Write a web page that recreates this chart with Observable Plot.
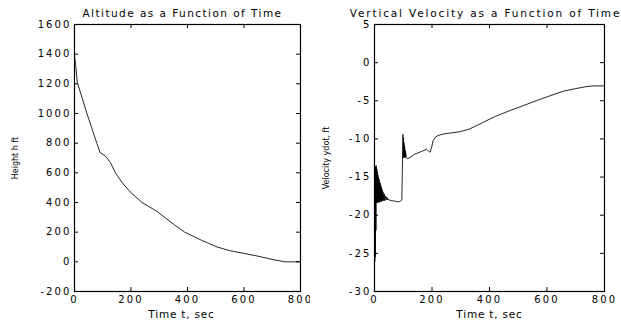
<!DOCTYPE html>
<html>
<head>
<meta charset="utf-8">
<script src="https://cdn.jsdelivr.net/npm/d3@7"></script>
<script src="https://cdn.jsdelivr.net/npm/@observablehq/plot@0.6"></script>
<style>
  html, body { margin: 0; padding: 0; background: white; }
  #wrap { display: flex; width: 621px; height: 324px; overflow: hidden; background: white; }
  #wrap svg { flex: none; }
</style>
</head>
<body>
<div id="wrap"></div>
<script>
// ---- Data ----
const xTicks = [0, 200, 400, 600, 800];
const altTicks = [-200, 0, 200, 400, 600, 800, 1000, 1200, 1400, 1600];
const velTicks = [-30, -25, -20, -15, -10, -5, 0, 5];

const altTime = [0, 4, 10, 44, 79, 91, 100, 110, 127, 145, 170, 197, 239, 292, 351, 390, 450, 505, 550, 600, 650, 700, 745, 800];
const altHeight = [1385, 1330, 1210, 1000, 800, 735, 725, 712, 670, 600, 530, 472, 400, 340, 253, 200, 145, 100, 75, 57, 38, 16, 0, 0];

const velTime = [0, 1, 2, 3, 4, 5, 6, 7, 8, 9, 10, 11, 12, 13, 14, 15, 16, 17, 18, 19, 20, 21, 22, 23, 24, 25, 26, 27, 28, 29, 30, 32, 34, 36, 38, 40, 42, 44, 46, 50, 60, 70, 80, 88, 95,
  99, 100, 101, 102, 103, 104, 105, 106, 107, 108, 109, 110, 114, 125, 140, 160, 181, 188, 193, 198, 204, 212, 221, 240, 260, 298, 330, 356, 379, 420, 472, 520, 565, 610, 657, 700, 739, 760, 800];
const velValue = [-19, -26.1, -14.0, -25.5, -13.6, -22.0, -13.5, -18.4, -13.9, -18.4, -14.3, -18.3, -14.7, -18.3, -15.0, -18.3, -15.3, -18.3, -15.6, -18.2, -15.8, -18.2, -16.1, -18.2, -16.3, -18.2, -16.6, -18.1, -16.8, -18.1, -17.0, -18.1, -17.2, -18.1, -17.5, -18.0, -17.6, -18.0, -17.8, -18.0, -18.1, -18.15, -18.25, -18.2, -18.0,
  -9.4, -12.5, -9.9, -12.4, -10.5, -12.4, -11.0, -12.4, -11.5, -12.4, -11.9, -12.4, -12.6, -12.4, -12.0, -11.7, -11.35, -11.6, -11.75, -11.2, -10.2, -9.75, -9.55, -9.35, -9.25, -9.05, -8.7, -8.24, -7.8, -7.05, -6.27, -5.6, -4.96, -4.35, -3.74, -3.4, -3.13, -3.05, -3.05];

const titles = ["Altitude as a Function of Time", "Vertical Velocity as a Function of Time"];
const xLabel = "Time t, sec";
const yLabels = ["Height h ft", "Velocity ydot, ft"];

const altRows = altTime.map((t, i) => ({t, v: altHeight[i]}));
const velRows = velTime.map((t, i) => ({t, v: velValue[i]}));

function panel({width, marginLeft, marginRight, yDomain, yTicks, rows, title, ylabel, ylabelDx, xlabelDx, titleDx, titleSpacing}) {
  const height = 324, marginTop = 24, marginBottom = 33;
  const fw = width - marginLeft - marginRight;
  const fh = height - marginTop - marginBottom;
  const fmt = d => `${d}`;
  const svg = Plot.plot({
    width, height, marginLeft, marginRight, marginTop, marginBottom,
    x: {domain: [0, 800]},
    y: {domain: yDomain},
    style: {fontFamily: "DejaVu Sans", fontSize: "10px", background: "white", color: "black", overflow: "hidden"},
    marks: [
      Plot.tickX(xTicks, {x: d => d, insetTop: fh - 4, stroke: "black"}),
      Plot.tickX(xTicks, {x: d => d, insetBottom: fh - 4, stroke: "black"}),
      Plot.tickY(yTicks, {y: d => d, insetRight: fw - 4, stroke: "black"}),
      Plot.tickY(yTicks, {y: d => d, insetLeft: fw - 4, stroke: "black"}),
      Plot.axisX({ticks: xTicks, tickSize: 0, tickPadding: 4, tickFormat: fmt, label: null}),
      Plot.axisY({ticks: yTicks, tickSize: 0, tickPadding: 3, tickFormat: fmt, label: null}),
      Plot.line(rows, {x: "t", y: "v", stroke: "black", strokeWidth: 0.85}),
      Plot.frame({stroke: "black", strokeWidth: 1.2}),
      Plot.text([title], {text: d => d, frameAnchor: "top", lineAnchor: "middle", textAnchor: "middle", dy: -10.5, dx: titleDx, fontSize: 10.5}),
      Plot.text([xLabel], {text: d => d, frameAnchor: "bottom", lineAnchor: "middle", textAnchor: "middle", dy: 23, dx: xlabelDx, fontSize: 10.5}),
      Plot.text([ylabel], {text: d => d, frameAnchor: "left", lineAnchor: "middle", textAnchor: "middle", dx: ylabelDx, rotate: -90, fontSize: 8})
    ]
  });
  // styling tweaks: wide letter spacing like the reference's stretched Helvetica
  svg.querySelectorAll("text").forEach(t => {
    const g = t.closest("g[aria-label]");
    const label = g ? g.getAttribute("aria-label") : "";
    if (/tick label/.test(label)) t.style.letterSpacing = "2.1px";
  });
  const texts = svg.querySelectorAll('g[aria-label="text"] text');
  if (texts[0]) texts[0].style.letterSpacing = titleSpacing + "px";
  if (texts[1]) texts[1].style.letterSpacing = "0.8px";
  return svg;
}

const wrap = document.getElementById("wrap");
wrap.append(panel({width: 310, marginLeft: 74, marginRight: 10, yDomain: [-200, 1600], yTicks: altTicks, rows: altRows, title: titles[0], ylabel: yLabels[0], ylabelDx: -59, xlabelDx: -6, titleDx: -5, titleSpacing: 1.45}));
wrap.append(panel({width: 311, marginLeft: 64, marginRight: 17, yDomain: [-30, 5], yTicks: velTicks, rows: velRows, title: titles[1], ylabel: yLabels[1], ylabelDx: -48, xlabelDx: 0, titleDx: -4, titleSpacing: 1.85}));
</script>
</body>
</html>
